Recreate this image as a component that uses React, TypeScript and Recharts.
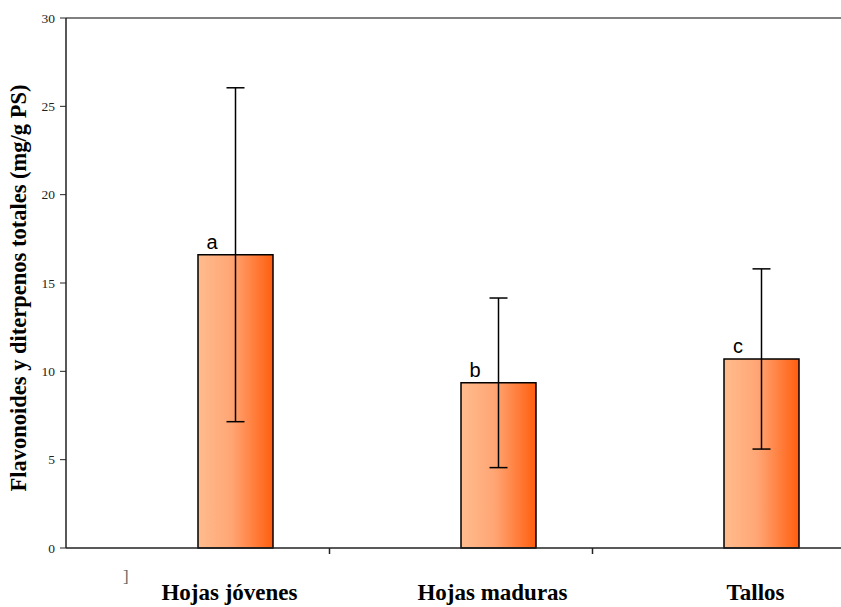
import React from "react";
import { BarChart, Bar, XAxis, YAxis, ErrorBar, LabelList, ReferenceLine } from "recharts";

const categories = ["Hojas jóvenes", "Hojas maduras", "Tallos"];
const means = [16.6, 9.35, 10.7];
const errors = [9.45, 4.8, 5.1];
const letters = ["a", "b", "c"];
const yTicks = [0, 5, 10, 15, 20, 25, 30];

const data = categories.map((name, i) => ({
  name,
  blank: null,
  value: means[i],
  err: errors[i],
  letter: letters[i],
}));

const XTick = (props: any) => {
  const { x, y, payload, index } = props;
  return (
    <g>
      {index < 2 && (
        <line x1={x + 132} x2={x + 132} y1={y - 8} y2={y - 2} stroke="#222" strokeWidth={1.5} />
      )}
      <text
        x={x + 32}
        y={y + 44}
        textAnchor="middle"
        fontFamily="'Liberation Serif', 'Times New Roman', serif"
        fontWeight="bold"
        fontSize={23}
        fill="#000"
      >
        {payload.value}
      </text>
    </g>
  );
};

const LetterLabel = (props: any) => {
  const { x, y, value } = props;
  return (
    <text x={x + 14} y={y - 6} textAnchor="middle" fontFamily="'Liberation Sans', Arial, sans-serif" fontSize={20} fill="#000">
      {value}
    </text>
  );
};

export default function App() {
  return (
    <div style={{ position: "absolute", left: 0, top: 0, width: 841, height: 607, overflow: "hidden", background: "#fff" }}>
      <BarChart
        width={860}
        height={607}
        data={data}
        margin={{ top: 18, right: 5, left: 0, bottom: 0 }}
        barGap={0}
        barSize={75}
      >
        <defs>
          <linearGradient id="barGrad" x1="0" y1="0" x2="1" y2="0">
            <stop offset="0%" stopColor="#FFBC8E" />
            <stop offset="45%" stopColor="#FFA574" />
            <stop offset="100%" stopColor="#FF5E0E" />
          </linearGradient>
        </defs>
        <ReferenceLine y={30} stroke="#808080" strokeWidth={2} ifOverflow="visible" />
        <XAxis
          dataKey="name"
          height={59}
          axisLine={{ stroke: "#222", strokeWidth: 1.5 }}
          tickLine={false}
          tick={<XTick />}
          interval={0}
        />
        <YAxis
          width={66}
          domain={[0, 30]}
          ticks={yTicks}
          interval={0}
          axisLine={{ stroke: "#222", strokeWidth: 1.5 }}
          tickLine={{ stroke: "#222", strokeWidth: 1 }}
          tickSize={6}
          tickMargin={5}
          tick={{ fontFamily: "'Liberation Serif', 'Times New Roman', serif", fontSize: 13.5, fill: "#222" }}
          label={{
            content: () => (
              <text
                transform="translate(26,288) rotate(-90)"
                textAnchor="middle"
                fontFamily="'Liberation Serif', 'Times New Roman', serif"
                fontWeight="bold"
                fontSize={22.5}
                fill="#000"
              >
                Flavonoides y diterpenos totales (mg/g PS)
              </text>
            ),
          }}
        />
        <Bar dataKey="blank" fill="none" isAnimationActive={false} />
        <Bar dataKey="value" fill="url(#barGrad)" stroke="#000" strokeWidth={1.5} isAnimationActive={false}>
          <ErrorBar dataKey="err" width={9} stroke="#000" strokeWidth={1.5} direction="y" />
          <LabelList dataKey="letter" content={<LetterLabel />} />
        </Bar>
        <text x={123} y={582} fontFamily="'Liberation Serif', serif" fontSize={17} fill="#666">]</text>
      </BarChart>
    </div>
  );
}
